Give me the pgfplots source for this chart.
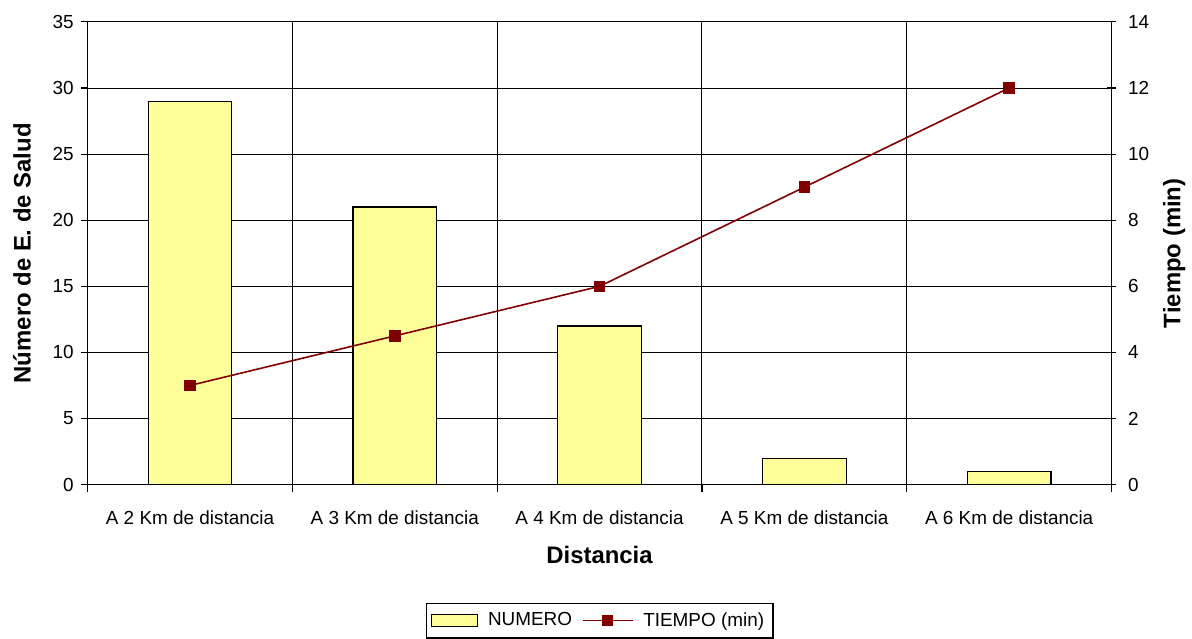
\documentclass[border=0pt]{standalone}
\usepackage{pgfplots}
\pgfplotsset{compat=1.18}
\usepackage{fontspec}
\setmainfont{Liberation Sans}
\definecolor{barfill}{RGB}{255,255,153}
\definecolor{linered}{RGB}{128,0,0}

\pgfplotsset{
  base/.style={
    scale only axis, width=514.5pt, height=232.5pt,
    at={(44pt,75pt)}, anchor=south west,
    xmin=-0.5, xmax=4.5,
    axis line style={-, line width=0.8pt, black},
    tick style={black, line width=0.6pt},
    major tick length=3.5pt,
    /pgf/number format/assume math mode=true,
    ticklabel style={font=\fontsize{9.5}{11}\selectfont},
    label style={font=\fontsize{12}{14}\selectfont\bfseries},
  },
  barleg/.style={legend image code/.code={\draw[##1] (0pt,-3pt) rectangle (23pt,3pt);}},
  lineleg/.style={legend image code/.code={\draw[##1] (0pt,0pt) -- (25pt,0pt);
      \draw[##1] plot coordinates {(12.5pt,0pt)};}},
}

\begin{document}
\begin{tikzpicture}
\path (0,0) rectangle (596pt,318.5pt);
\begin{axis}[base,
    ymin=0, ymax=35, ytick={0,5,...,35},
    axis x line*=bottom, axis y line*=left,
    tick align=outside,
    xtick={-0.5,0.5,...,4.5}, xticklabels={},
    xmajorgrids, ymajorgrids,
    grid style={black, line width=0.5pt},
    extra x ticks={0,1,2,3,4},
    extra x tick labels={A 2 Km de distancia,A 3 Km de distancia,A 4 Km de distancia,A 5 Km de distancia,A 6 Km de distancia},
    extra x tick style={grid=none, major tick length=0pt,
      xticklabel style={yshift=-9.5pt}},
    xlabel={Distancia},
    ylabel={Número de E. de Salud},
    xlabel style={at={(axis description cs:0.5,-0.1527)}, anchor=center},
    ylabel style={at={(axis description cs:-0.0641,0.5)}, anchor=center},
  ]
  \addplot[ybar, bar width=42pt, fill=barfill, draw=black, line width=0.6pt]
    coordinates {(0,29) (1,21) (2,12) (3,2) (4,1)};
\end{axis}
\begin{axis}[base,
    ymin=0, ymax=14, ytick={0,2,...,14},
    axis x line=none, axis y line*=right,
    tick align=center, major tick length=4.5pt,
    yticklabel style={xshift=2.5pt},
    ylabel={Tiempo (min)},
    ylabel style={at={(axis description cs:1.0612,0.5)}, anchor=center},
    legend style={at={(axis description cs:0.5,-0.294)}, anchor=center,
      legend columns=-1, draw=black, line width=0.6pt,
      font=\fontsize{9.5}{11}\selectfont,
      inner sep=2.5pt, column sep=3pt},
  ]
  \addlegendimage{barleg, fill=barfill, draw=black, line width=0.6pt}
  \addlegendentry{NUMERO}
  \addplot[lineleg, linered, line width=0.8pt, mark=square*, mark size=2.5pt,
    mark options={fill=linered, draw=linered}]
    coordinates {(0,3) (1,4.5) (2,6) (3,9) (4,12)};
  \addlegendentry{TIEMPO (min)}
\end{axis}
\end{tikzpicture}
\end{document}
